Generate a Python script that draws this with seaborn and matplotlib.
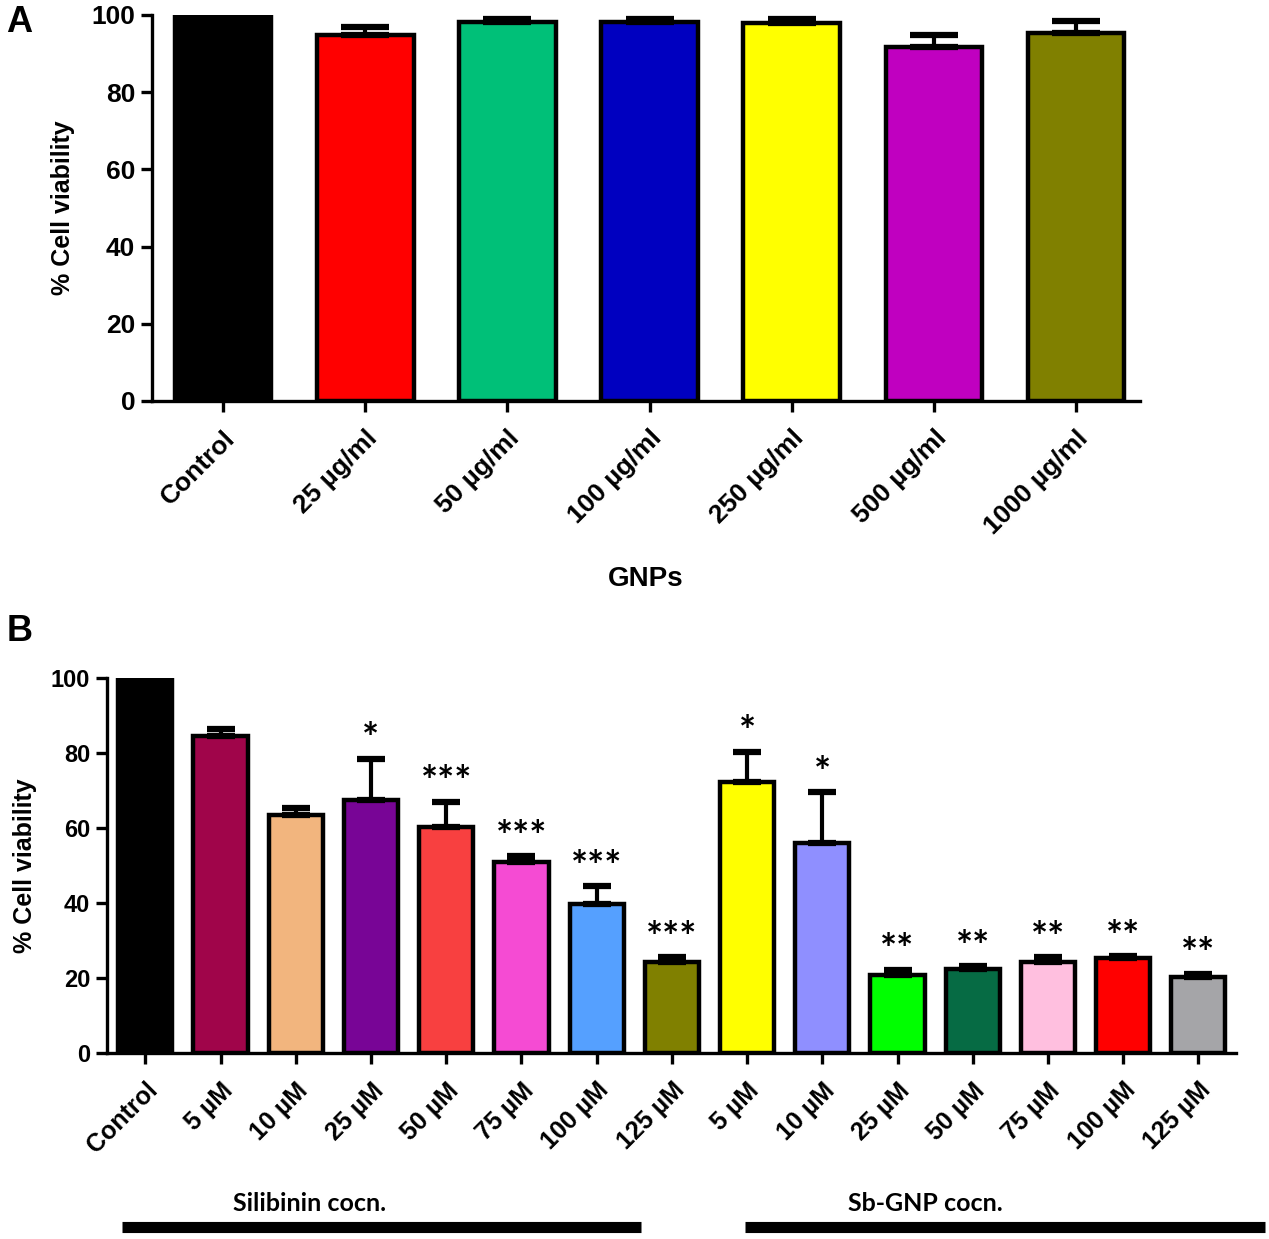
import numpy as np
import pandas as pd
import seaborn as sns
import matplotlib.pyplot as plt
from matplotlib.lines import Line2D

# ---- Panel A data (GNPs) ----
gnp_labels = ["Control", "25 µg/ml", "50 µg/ml", "100 µg/ml", "250 µg/ml", "500 µg/ml", "1000 µg/ml"]
gnp_values = [100.0, 94.8, 98.1, 98.1, 97.8, 91.6, 95.2]
gnp_err = [0.0, 2.0, 0.9, 0.9, 1.1, 3.3, 3.3]
gnp_colors = ["#000000", "#FF0000", "#00C078", "#0000C0", "#FFFF00", "#C000C0", "#808000"]

# ---- Panel B data (Silibinin / Sb-GNP) ----
sb_ids = ["Control", "Sil 5", "Sil 10", "Sil 25", "Sil 50", "Sil 75", "Sil 100", "Sil 125",
          "Sb 5", "Sb 10", "Sb 25", "Sb 50", "Sb 75", "Sb 100", "Sb 125"]
sb_labels = ["Control", "5 µM", "10 µM", "25 µM", "50 µM", "75 µM", "100 µM", "125 µM",
             "5 µM", "10 µM", "25 µM", "50 µM", "75 µM", "100 µM", "125 µM"]
sb_values = [100.0, 84.6, 63.4, 67.6, 60.3, 50.9, 39.8, 24.4,
             72.4, 56.1, 20.9, 22.3, 24.2, 25.3, 20.4]
sb_err = [0.0, 1.9, 1.9, 10.9, 6.7, 1.6, 4.7, 1.2,
          8.0, 13.4, 1.3, 0.9, 1.4, 0.5, 0.7]
sb_stars = ["", "", "", "*", "***", "***", "***", "***",
            "*", "*", "**", "**", "**", "**", "**"]
sb_colors = ["#000000", "#A0054A", "#F2B57E", "#780596", "#F84040", "#F54BD3", "#55A0FF", "#808000",
             "#FFFF00", "#8F8FFF", "#00FF00", "#066B44", "#FFBFDF", "#FF0000", "#A5A5A8"]

sns.set_style("ticks")
plt.rcParams['font.family'] = ['Liberation Sans', 'DejaVu Sans']
plt.rcParams['axes.linewidth'] = 2.4
for k in ['text.color', 'axes.labelcolor', 'xtick.color', 'ytick.color', 'axes.edgecolor']:
    plt.rcParams[k] = 'black'


def draw_panel(ax, ids, labels, values, err, colors, width, capsize, rot_fs, ytick_fs):
    df = pd.DataFrame({"group": ids, "value": values})
    sns.barplot(data=df, x="group", y="value", hue="group", order=ids,
                palette=dict(zip(ids, colors)), saturation=1, legend=False,
                width=width, edgecolor="black", linewidth=3.2, ax=ax)
    err = np.array(err)
    idx = np.where(err > 0)[0]
    ax.errorbar(idx, np.array(values)[idx], yerr=[np.zeros(len(idx)), err[idx]],
                fmt="none", ecolor="black", elinewidth=3, capsize=capsize,
                capthick=4.5, zorder=1)
    ax.set_ylim(0, 100)
    ax.set_yticks([0, 20, 40, 60, 80, 100])
    ax.set_xticks(range(len(ids)))
    ax.set_xticklabels(labels, rotation=45, ha="right", rotation_mode="anchor",
                       fontsize=rot_fs, fontweight="bold")
    for t in ax.get_yticklabels():
        t.set_fontsize(ytick_fs)
        t.set_fontweight("bold")
    ax.tick_params(axis="both", direction="out", length=8, width=2.4, pad=4)
    ax.tick_params(axis="x", pad=10)
    sns.despine(ax=ax)


fig = plt.figure(figsize=(12.69, 12.39), dpi=100)

# Panel A
axA = fig.add_axes([0.1198, 0.6764, 0.7786, 0.3116])
draw_panel(axA, gnp_labels, gnp_labels, gnp_values, gnp_err, gnp_colors,
           width=0.68, capsize=17, rot_fs=19, ytick_fs=19)
axA.set_xlim(-0.5, 6.45)
axA.set_xlabel("GNPs", fontsize=20, fontweight="bold", labelpad=20)
axA.set_ylabel("% Cell viability", fontsize=18, fontweight="bold", labelpad=12)
fig.text(0.005, 0.982, "A", fontsize=26, fontweight="bold", va="center")

# Panel B
axB = fig.add_axes([0.0843, 0.150, 0.8897, 0.3028])
draw_panel(axB, sb_ids, sb_labels, sb_values, sb_err, sb_colors,
           width=0.72, capsize=10, rot_fs=18, ytick_fs=17)
axB.set_xlim(-0.51, 14.5)
axB.set_xlabel("")
axB.set_ylabel("% Cell viability", fontsize=18, fontweight="bold", labelpad=10)
for i, s in enumerate(sb_stars):
    if s:
        axB.text(i, sb_values[i] + sb_err[i] + 4.8, s, ha="center", va="center",
                 fontsize=29, fontweight="bold", family=["Lato", "DejaVu Sans"])
fig.text(0.005, 0.49, "B", fontsize=26, fontweight="bold", va="center")

# group captions and bars under panel B
fig.text(0.244, 0.029, "Silibinin cocn.", ha="center", va="center", fontsize=18,
         family=["Lato", "DejaVu Sans"], fontweight="bold")
fig.text(0.729, 0.029, "Sb-GNP cocn.", ha="center", va="center", fontsize=18,
         family=["Lato", "DejaVu Sans"], fontweight="bold")
fig.add_artist(Line2D([0.096, 0.505], [0.0097, 0.0097], color="black", lw=8,
                      transform=fig.transFigure, solid_capstyle="butt"))
fig.add_artist(Line2D([0.587, 0.997], [0.0097, 0.0097], color="black", lw=8,
                      transform=fig.transFigure, solid_capstyle="butt"))

fig.savefig("out.png", dpi=100)
